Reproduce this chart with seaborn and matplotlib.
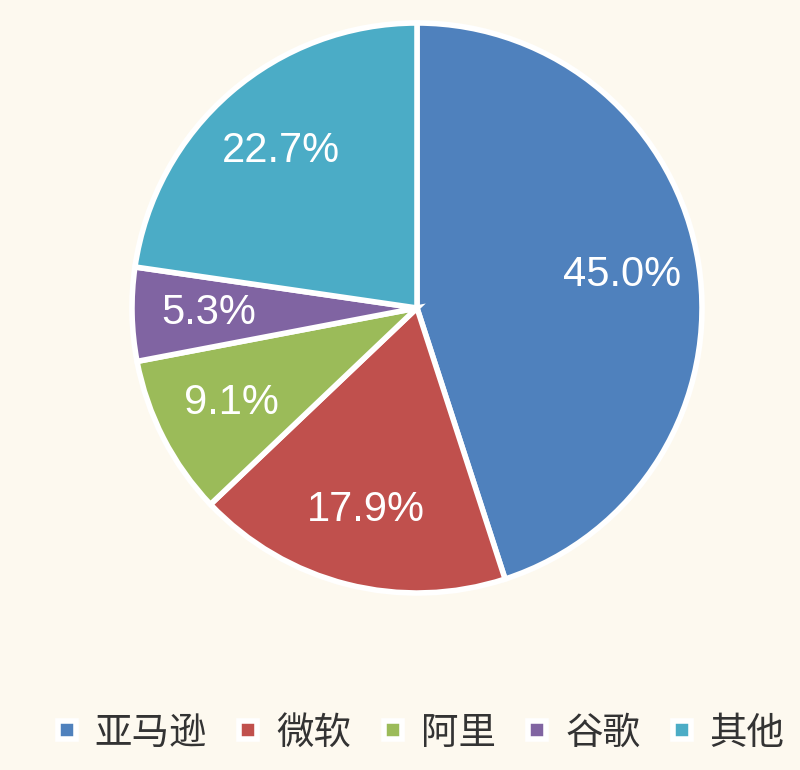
import matplotlib
matplotlib.use('Agg')
import matplotlib.pyplot as plt
from matplotlib.lines import Line2D
import seaborn as sns

sns.set_style("white")
plt.rcParams['font.family'] = ['Noto Sans CJK SC', 'DejaVu Sans']

# Data
labels = ['亚马逊', '微软', '阿里', '谷歌', '其他']
shares = [45.0, 17.9, 9.1, 5.3, 22.7]
colors = ['#4F81BD', '#C0504D', '#9BBB59', '#8064A2', '#4BACC6']
bg = '#FDF9EF'

fig = plt.figure(figsize=(8, 7.7), dpi=100, facecolor=bg)
ax = fig.add_axes([132 / 800, 1 - 593 / 770, 570 / 800, 570 / 770])
ax.set_facecolor(bg)

wedges, texts, autotexts = ax.pie(
    shares, colors=colors, startangle=90, counterclock=False,
    autopct='%1.1f%%', pctdistance=0.73,
    wedgeprops=dict(edgecolor='white', linewidth=4),
    textprops=dict(color='white', fontsize=30, family='Liberation Sans'))
for w in wedges:
    w.set_clip_on(False)
ax.set_xlim(-1, 1)
ax.set_ylim(-1, 1)
ax.set_aspect('equal')
ax.axis('off')

handles = [Line2D([0], [0], marker='s', linestyle='none', markersize=13,
                  markerfacecolor=c, markeredgecolor='white', markeredgewidth=4)
           for c in colors]
fig.legend(handles, labels, loc='center', bbox_to_anchor=(0.525, 0.048), ncol=5,
           frameon=False, fontsize=27, handlelength=0.6, handletextpad=0.45,
           columnspacing=0.8, labelcolor='#333333')

fig.savefig('out.png', dpi=100, facecolor=bg)
